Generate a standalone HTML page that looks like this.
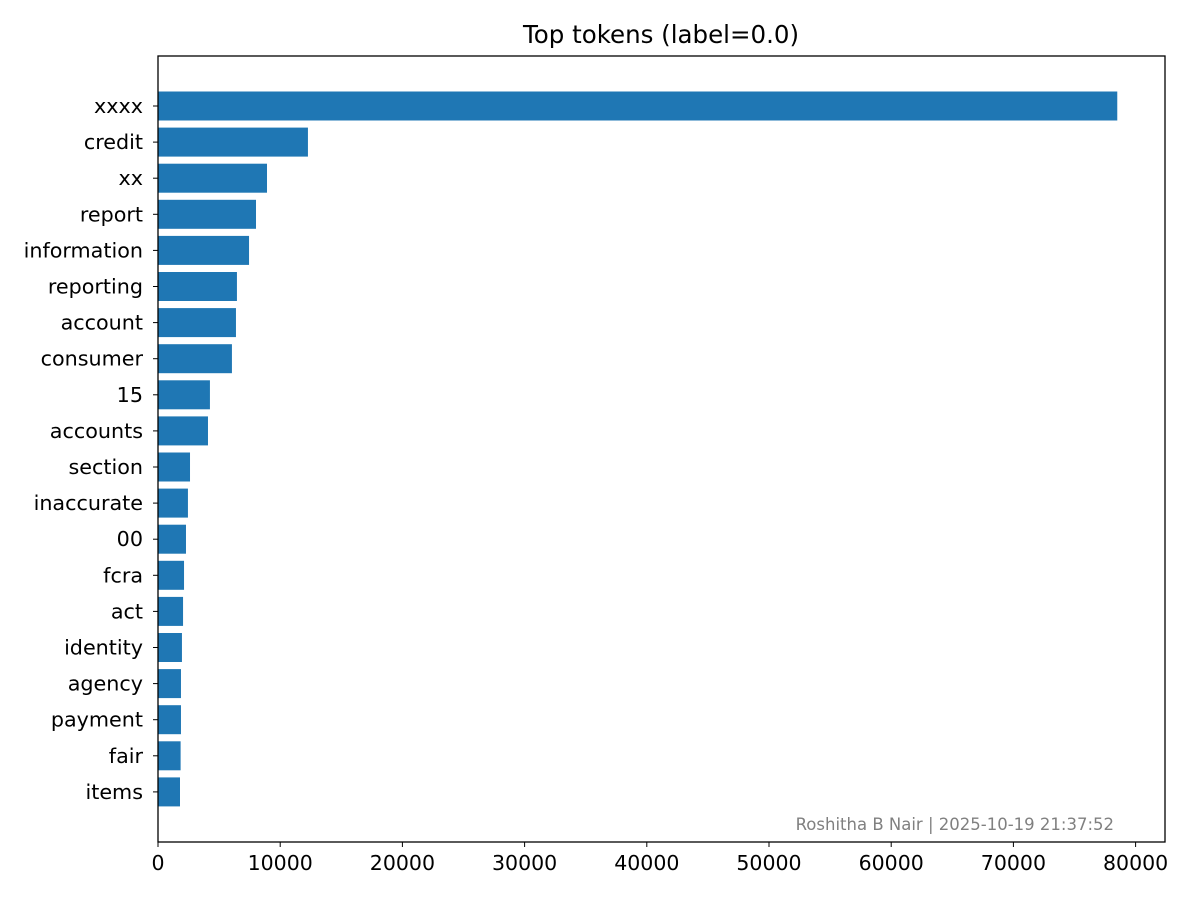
<!DOCTYPE html>
<html><head><meta charset="utf-8"><style>
body{margin:0;background:#fff;}
svg text{font-family:"DejaVu Sans","Liberation Sans",sans-serif;}
</style></head><body>
<svg id="chart" width="1200" height="900" xmlns="http://www.w3.org/2000/svg">
<rect x="0" y="0" width="1200" height="900" fill="#fff"/>
<text x="661" y="43" font-size="24.5" text-anchor="middle">Top tokens (label=0.0)</text>
<g id="bars"></g>
<g id="yticks"></g>
<g id="xticks"></g>
<rect x="158" y="56" width="1007" height="786" fill="none" stroke="#000" stroke-width="1.3"/>
<text x="1114" y="830" font-size="16.5" fill="#808080" text-anchor="end">Roshitha B Nair | 2025-10-19 21:37:52</text>
</svg>
<script>
const categories=["xxxx","credit","xx","report","information","reporting","account","consumer","15","accounts","section","inaccurate","00","fcra","act","identity","agency","payment","fair","items"];
const values=[78500,12270,8920,8020,7450,6460,6380,6050,4250,4090,2620,2450,2290,2130,2050,1960,1880,1880,1850,1800];
const xTickValues=[0,10000,20000,30000,40000,50000,60000,70000,80000];
const NS="http://www.w3.org/2000/svg";
const x0=158,pxPer=122.2/10000;
function xs(v){return x0+v*pxPer;}
const yFirst=106,step=36.1,bh=29;
function ys(i){return yFirst+i*step;}
const bars=document.getElementById('bars'),yt=document.getElementById('yticks'),xt=document.getElementById('xticks');
categories.forEach((c,i)=>{
 const r=document.createElementNS(NS,'rect');
 r.setAttribute('x',x0);r.setAttribute('y',ys(i)-bh/2);
 r.setAttribute('width',xs(values[i])-x0);r.setAttribute('height',bh);
 r.setAttribute('fill','#1f77b4');
 
 
 bars.appendChild(r);
 const l=document.createElementNS(NS,'line');
 l.setAttribute('x1',x0-5);l.setAttribute('x2',x0);l.setAttribute('y1',ys(i));l.setAttribute('y2',ys(i));l.setAttribute('stroke','#000');
 yt.appendChild(l);
 const t=document.createElementNS(NS,'text');
 t.setAttribute('x',x0-15);t.setAttribute('y',ys(i)+7);t.setAttribute('font-size','20.7');t.setAttribute('text-anchor','end');
 t.textContent=c;
 
 
 yt.appendChild(t);
});
xTickValues.forEach(v=>{
 const l=document.createElementNS(NS,'line');
 l.setAttribute('x1',xs(v));l.setAttribute('x2',xs(v));l.setAttribute('y1',842);l.setAttribute('y2',847);l.setAttribute('stroke','#000');
 xt.appendChild(l);
 const t=document.createElementNS(NS,'text');
 t.setAttribute('x',xs(v));t.setAttribute('y',870);t.setAttribute('font-size','20.5');t.setAttribute('text-anchor','middle');
 t.textContent=v;
 
 
 xt.appendChild(t);
});
</script>
</body></html>
